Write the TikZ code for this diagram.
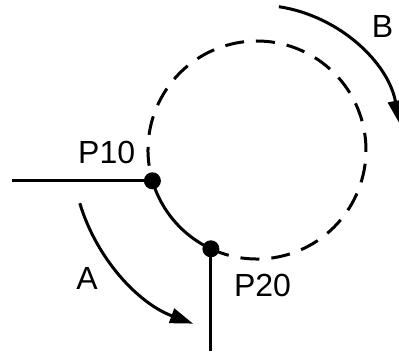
\documentclass[tikz,border=0pt]{standalone}
\usepackage{fontspec}
\setmainfont{Liberation Sans}
\usetikzlibrary{arrows.meta}
\begin{document}
\begin{tikzpicture}[x=1pt,y=1pt,
  solidline/.style={line width=3pt},
  dashcircle/.style={line width=3pt, dash pattern=on 19pt off 12pt},
  dot/.style={circle, fill=black, inner sep=0pt, minimum size=17pt},
  lbl/.style={inner sep=0pt, font=\fontsize{32}{38}\selectfont},
  arr/.style={line width=3pt, -{Triangle[length=23pt,width=15pt]}}]
\useasboundingbox (0,0) rectangle (399,351);
\coordinate (c) at (257,201);
\coordinate (p10) at (152.4,170.2);
\coordinate (p20) at (210.9,102.2);
\coordinate (left) at (12,170.2);
\coordinate (bottom) at (210.9,0);
\coordinate (a0) at (79.8,147.8);
\coordinate (b0) at (278.9,344.3);
% dashed part of the circle
\draw[dashcircle] (p20) arc[start angle=245, end angle=556.4, radius=109];
% solid arc between P10 and P20
\draw[solidline] (p10) arc[start angle=196.4, end angle=245, radius=109];
% straight lines
\draw[solidline] (left) -- (p10);
\draw[solidline] (p20) -- (bottom);
% direction arrows
\draw[arr] (a0) arc[start angle=196.7, end angle=249.8, radius=185];
\draw[arr] (b0) arc[start angle=81.3, end angle=10.5, radius=145];
% points
\node[dot] (d10) at (p10) {};
\node[dot] (d20) at (p20) {};
% labels
\node[lbl] (l10) at (106.7,198.2) {P10};
\node[lbl] (l20) at (262.5,65.5) {P20};
\node[lbl] (la) at (87,72.5) {A};
\node[lbl] (lb) at (382.5,324.5) {B};
\end{tikzpicture}
\end{document}
